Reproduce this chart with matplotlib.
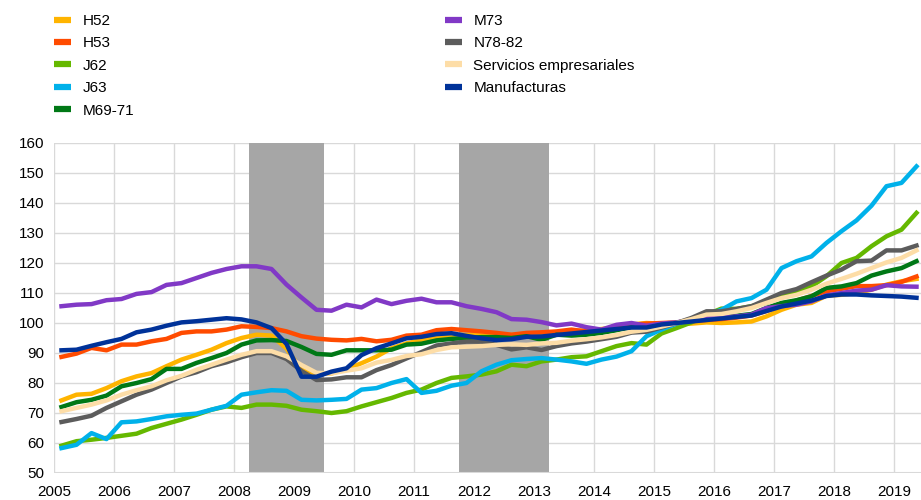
import numpy as np
import matplotlib
matplotlib.use("Agg")
import matplotlib.pyplot as plt
from matplotlib.lines import Line2D

plt.rcParams['font.family'] = ['Liberation Sans', 'DejaVu Sans']

# quarterly, 2005Q1 - 2019Q2 (2015 = 100)
n_quarters = 58
start_year = 2005

h52 = [74.2, 76.1, 76.4, 78.3, 80.6, 82.2, 83.3, 85.6, 87.8, 89.4, 91.1, 93.3, 95.0, 96.1, 95.8, 91.5,
       84.3, 83.2, 83.2, 84.6, 86.6, 88.8, 91.6, 93.2, 94.3, 95.4, 96.0, 96.0, 96.3, 96.3, 96.0, 96.0,
       96.3, 96.8, 97.2, 97.6, 98.0, 98.6, 99.5, 100.0, 99.8, 99.6, 99.8, 100.2, 100.0, 100.2, 100.5, 102.2,
       104.4, 106.1, 106.7, 109.1, 109.4, 110.0, 111.1, 112.8, 113.9, 114.7]
h53 = [88.7, 89.8, 91.7, 90.9, 92.8, 92.8, 93.9, 94.7, 96.7, 97.2, 97.2, 97.8, 98.9, 98.7, 98.3, 97.2,
       95.6, 94.8, 94.4, 94.2, 94.7, 93.9, 94.4, 95.8, 96.1, 97.6, 98.0, 97.6, 97.2, 96.7, 96.1, 96.7,
       96.9, 97.2, 97.8, 97.2, 97.2, 98.6, 99.4, 99.8, 100.0, 100.2, 100.6, 101.0, 101.3, 101.8, 102.5, 104.0,
       105.8, 107.5, 109.0, 110.6, 111.4, 112.3, 112.3, 112.6, 113.7, 115.5]
j62 = [59.1, 60.6, 61.1, 61.7, 62.4, 63.1, 65.0, 66.4, 67.8, 69.4, 71.1, 72.2, 71.7, 72.8, 72.8, 72.4,
       71.1, 70.6, 70.0, 70.6, 72.2, 73.6, 75.0, 76.7, 77.8, 80.0, 81.7, 82.2, 82.8, 83.9, 86.1, 85.6,
       87.2, 87.8, 88.6, 88.9, 90.6, 92.3, 93.3, 92.8, 96.5, 98.3, 100.2, 102.8, 104.8, 104.7, 105.6, 106.7,
       108.9, 110.0, 112.2, 115.6, 120.0, 121.7, 125.6, 128.9, 131.1, 136.7]
j63 = [58.3, 59.4, 63.3, 61.3, 66.9, 67.2, 68.0, 68.9, 69.4, 69.8, 71.1, 72.4, 76.1, 76.9, 77.6, 77.4,
       74.4, 74.2, 74.4, 74.7, 77.8, 78.3, 80.0, 81.3, 76.7, 77.4, 79.1, 80.0, 83.9, 86.1, 87.6, 88.0,
       88.3, 87.8, 87.2, 86.4, 87.8, 88.8, 90.6, 95.6, 97.8, 99.8, 101.1, 102.8, 104.4, 107.2, 108.3, 111.1,
       118.3, 120.6, 122.2, 126.7, 130.6, 134.2, 139.1, 145.6, 146.7, 152.2]
m69_71 = [72.0, 73.6, 74.4, 75.8, 78.9, 80.0, 81.3, 84.7, 84.7, 86.7, 88.3, 90.0, 92.8, 94.2, 94.3, 94.0,
          92.0, 89.7, 89.4, 90.9, 90.9, 90.9, 91.1, 92.8, 93.1, 94.2, 94.7, 95.0, 95.3, 95.3, 95.0, 95.6,
          94.4, 96.1, 95.8, 96.1, 96.7, 97.6, 98.6, 98.7, 99.1, 100.0, 101.1, 101.7, 102.0, 102.4, 103.0, 105.0,
          106.7, 107.6, 108.9, 111.7, 112.2, 113.3, 115.8, 117.2, 118.3, 120.6]
m73 = [105.6, 106.1, 106.3, 107.6, 108.0, 109.7, 110.3, 112.7, 113.3, 115.0, 116.7, 118.0, 118.9, 118.9, 118.0, 112.8,
       108.5, 104.4, 104.1, 106.1, 105.2, 107.8, 106.3, 107.4, 108.1, 106.9, 106.9, 105.6, 104.7, 103.6, 101.3, 101.1,
       100.3, 99.2, 99.8, 98.6, 97.8, 99.4, 100.0, 99.1, 99.8, 100.2, 101.1, 102.0, 101.9, 102.2, 102.8, 105.0,
       105.6, 106.1, 107.2, 109.2, 110.0, 110.8, 111.1, 112.6, 112.2, 112.1]
n78_82 = [67.0, 68.0, 69.1, 71.7, 73.9, 76.1, 77.8, 80.0, 82.2, 83.6, 85.6, 86.9, 88.6, 90.0, 90.0, 88.0,
          84.0, 81.0, 81.2, 81.9, 81.9, 84.3, 86.0, 88.2, 90.3, 92.5, 93.2, 93.8, 93.8, 92.7, 91.2, 91.9,
          91.0, 92.3, 93.2, 93.8, 94.6, 95.4, 96.8, 97.1, 98.5, 100.0, 101.7, 103.9, 103.9, 104.7, 105.6, 107.8,
          110.0, 111.3, 113.6, 115.8, 117.8, 120.6, 120.8, 124.2, 124.2, 125.8]
servicios = [70.6, 71.7, 72.8, 74.2, 76.1, 77.6, 78.9, 80.9, 82.4, 84.4, 86.1, 87.8, 89.4, 90.6, 90.6, 88.9,
             86.0, 83.4, 83.2, 84.1, 84.9, 86.8, 87.7, 89.0, 89.6, 91.0, 91.9, 92.1, 92.3, 92.7, 92.9, 92.7,
             93.2, 93.4, 94.1, 94.6, 95.2, 96.0, 97.1, 97.7, 98.8, 100.0, 101.3, 102.8, 103.0, 103.9, 105.0, 106.7,
             108.3, 109.4, 111.1, 113.1, 114.7, 116.4, 118.3, 120.2, 121.7, 124.2]
manufacturas = [90.9, 91.1, 92.4, 93.6, 94.7, 96.9, 97.8, 99.1, 100.2, 100.6, 101.1, 101.6, 101.2, 100.2, 98.3, 93.0,
                82.1, 82.1, 83.8, 84.9, 89.3, 91.6, 93.2, 94.9, 95.4, 96.3, 96.6, 95.7, 94.9, 94.3, 94.6, 95.4,
                95.5, 96.0, 96.5, 97.0, 97.5, 98.0, 98.5, 98.5, 99.5, 100.0, 100.5, 101.0, 101.5, 102.0, 102.5, 104.0,
                105.5, 106.5, 107.5, 109.0, 109.5, 109.5, 109.2, 109.0, 108.8, 108.4]

labels = ['H52', 'H53', 'J62', 'J63', 'M69-71', 'M73', 'N78-82',
          'Servicios empresariales', 'Manufacturas']
series = [h52, h53, j62, j63, m69_71, m73, n78_82, servicios, manufacturas]
colors = ['#FFB400', '#FF4B00', '#65B800', '#00B1EA', '#007816', '#8139C6',
          '#5C5C5C', '#FDDDA7', '#003299']

# recession periods (shaded)
recessions = [(2008.25, 2009.5), (2011.75, 2013.25)]

x = start_year + (np.arange(n_quarters) + 0.5) / 4

fig = plt.figure(figsize=(9.21, 5.0), dpi=100)
ax = fig.add_axes([54 / 921, 27 / 500, 1 - 54 / 921, 330 / 500])

for a, b in recessions:
    ax.axvspan(a, b, color='#A6A6A6', lw=0, zorder=1)

for vals, c in zip(series, colors):
    ax.plot(x, vals, color=c, lw=3.2, solid_joinstyle='round', zorder=3)

ax.set_xlim(2005, 2019.45)
ax.set_ylim(50, 160)
ax.set_xticks(np.arange(2005, 2020))
ax.set_yticks(np.arange(50, 161, 10))
ax.grid(True, color='#D9D9D9', lw=1)
ax.set_axisbelow(True)
for s in ax.spines.values():
    s.set_visible(False)
ax.axhline(50, color='#D9D9D9', lw=1.5, zorder=2)
ax.tick_params(length=0, labelsize=11)
ax.tick_params(axis='x', pad=9)
ax.tick_params(axis='y', pad=7)

handles = [Line2D([], [], color=c, lw=4.5, solid_capstyle='butt') for c in colors]
kw = dict(loc='upper left', frameon=False, fontsize=11, handlelength=1.1,
          handletextpad=0.75, labelspacing=0.55, borderaxespad=0, borderpad=0)
fig.legend(handles[:5], labels[:5], bbox_to_anchor=(54 / 921, 1 - 14 / 500), **kw)
fig.legend(handles[5:], labels[5:], bbox_to_anchor=(445 / 921, 1 - 14 / 500), **kw)

fig.savefig('out.png', dpi=100)
